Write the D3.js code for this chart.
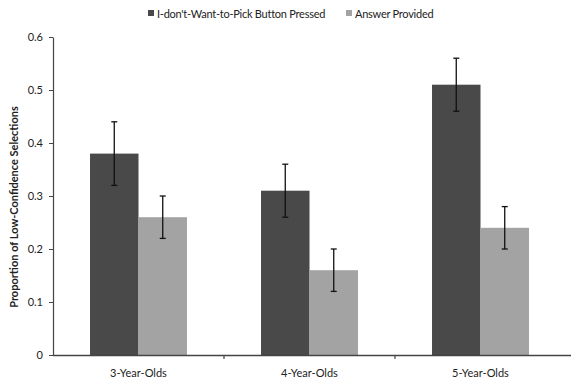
<!DOCTYPE html>
<html>
<head>
<meta charset="utf-8">
<script src="https://cdn.jsdelivr.net/npm/d3@7"></script>
<style>
body { margin: 0; background: #fff; }
text { font-family: Lato, "Open Sans", sans-serif; fill: #222; }
</style>
</head>
<body>
<svg id="chart" width="571" height="384"></svg>
<script>
const categories = ["3-Year-Olds", "4-Year-Olds", "5-Year-Olds"];
const seriesNames = ["I-don't-Want-to-Pick Button Pressed", "Answer Provided"];
const pressedValues = [0.38, 0.31, 0.51];
const pressedErrors = [0.06, 0.05, 0.05];
const answerValues = [0.26, 0.16, 0.24];
const answerErrors = [0.04, 0.04, 0.04];
const yTicks = [0, 0.1, 0.2, 0.3, 0.4, 0.5, 0.6];
const colors = ["#494949", "#a3a3a3"];

const svg = d3.select("#chart");
const mLeft = 53, mRight = 566, mTop = 37, mBottom = 355;

const x0 = d3.scaleBand().domain(categories).range([mLeft, mRight])
  .paddingInner(0.433).paddingOuter(0.2165);
const x1 = d3.scaleBand().domain(seriesNames).range([0, x0.bandwidth()]);
const y = d3.scaleLinear().domain([0, 0.6]).range([mBottom, mTop]);

const data = categories.map((c, i) => ({
  cat: c,
  vals: [
    { s: seriesNames[0], v: pressedValues[i], e: pressedErrors[i], c: colors[0] },
    { s: seriesNames[1], v: answerValues[i], e: answerErrors[i], c: colors[1] }
  ]
}));

// bars
const g = svg.append("g");
const groups = g.selectAll("g.grp").data(data).join("g")
  .attr("transform", d => `translate(${x0(d.cat)},0)`);
groups.selectAll("rect").data(d => d.vals).join("rect")
  .attr("x", d => x1(d.s))
  .attr("width", x1.bandwidth())
  .attr("y", d => y(d.v))
  .attr("height", d => y(0) - y(d.v))
  .attr("fill", d => d.c);

// error bars
const eb = groups.selectAll("g.err").data(d => d.vals).join("g").attr("class", "err");
eb.append("line")
  .attr("x1", d => x1(d.s) + x1.bandwidth() / 2)
  .attr("x2", d => x1(d.s) + x1.bandwidth() / 2)
  .attr("y1", d => y(d.v - d.e)).attr("y2", d => y(d.v + d.e))
  .attr("stroke", "#111").attr("stroke-width", 1.3);
[1, -1].forEach(sg => {
  eb.append("line")
    .attr("x1", d => x1(d.s) + x1.bandwidth() / 2 - 3)
    .attr("x2", d => x1(d.s) + x1.bandwidth() / 2 + 3)
    .attr("y1", d => y(d.v + sg * d.e)).attr("y2", d => y(d.v + sg * d.e))
    .attr("stroke", "#111").attr("stroke-width", 1.3);
});

// y axis
const yAxis = d3.axisLeft(y).tickValues(yTicks).tickFormat(d => d === 0 ? "0" : d3.format(".1f")(d))
  .tickSize(4).tickSizeOuter(0).tickPadding(6);
const ya = svg.append("g").attr("transform", `translate(${mLeft},0)`).call(yAxis);
ya.select(".domain").attr("stroke", "#444").attr("stroke-width", 1.2);
ya.selectAll(".tick line").attr("stroke", "#444");
ya.selectAll(".tick text").attr("font-family", "Lato, sans-serif").attr("font-size", 11).attr("fill", "#222");

// x axis line
svg.append("line").attr("x1", mLeft).attr("x2", 571).attr("y1", mBottom + 0.5).attr("y2", mBottom + 0.5)
  .attr("stroke", "#444").attr("stroke-width", 1.4);
// category boundary ticks
const step = x0.step();
categories.forEach((c, i) => {
  if (i === 0) return;
  const bx = x0(c) - step * x0.paddingInner() / 2;
  svg.append("line").attr("x1", bx).attr("x2", bx).attr("y1", mBottom).attr("y2", mBottom + 4)
    .attr("stroke", "#444").attr("stroke-width", 1.2);
});
svg.selectAll("text.cat").data(categories).join("text").attr("class", "cat")
  .attr("x", d => x0(d) + x0.bandwidth() / 2)
  .attr("y", 377)
  .attr("text-anchor", "middle")
  .attr("font-size", 11)
  .text(d => d);

// y label
svg.append("text")
  .attr("transform", "translate(18,207) rotate(-90)")
  .attr("text-anchor", "middle")
  .attr("font-size", 11)
  .attr("font-weight", "bold")
  .text("Proportion of Low-Confidence Selections");

// legend
const legendX = [148, 346];
seriesNames.forEach((s, i) => {
  svg.append("rect").attr("x", legendX[i]).attr("y", 10).attr("width", 6).attr("height", 6).attr("fill", colors[i]);
  svg.append("text").attr("x", legendX[i] + 9).attr("y", 18).attr("font-size", 11)
    .attr("letter-spacing", -0.25).text(s);
});
</script>
</body>
</html>
